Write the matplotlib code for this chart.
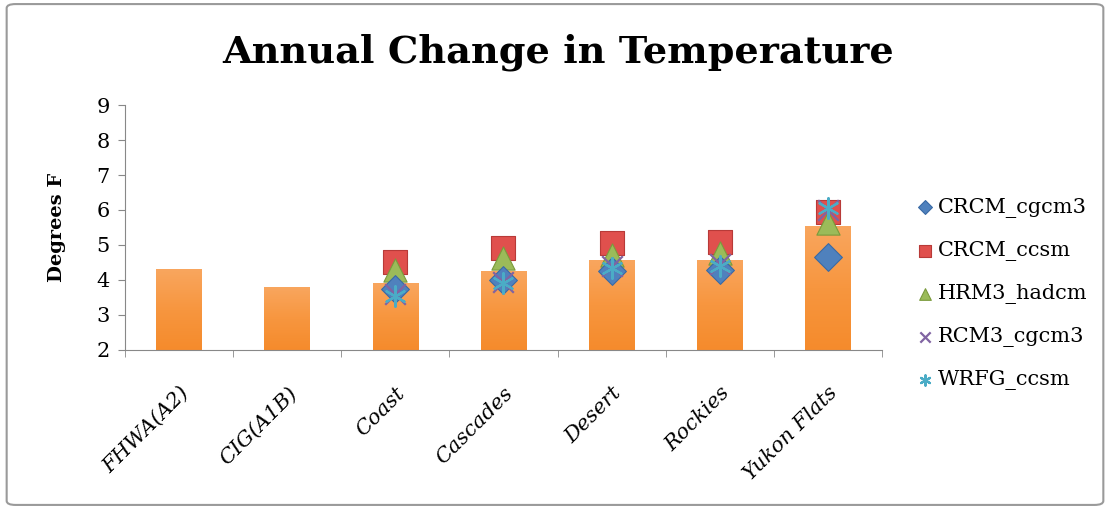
import numpy as np
import matplotlib
matplotlib.use("Agg")
import matplotlib.pyplot as plt
from matplotlib.patches import FancyBboxPatch

categories = ["FHWA(A2)", "CIG(A1B)", "Coast", "Cascades", "Desert", "Rockies", "Yukon Flats"]
bar_values = [4.31, 3.80, 3.91, 4.25, 4.57, 4.57, 5.54]

# model points only exist for the five regions (index 2..6)
crcm_cgcm3 = [np.nan, np.nan, 3.75, 4.00, 4.25, 4.28, 4.66]
crcm_ccsm = [np.nan, np.nan, 4.51, 4.91, 5.06, 5.09, 5.94]
hrm3_hadcm = [np.nan, np.nan, 4.29, 4.63, 4.71, 4.78, 5.62]
rcm3_cgcm3 = [np.nan, np.nan, 3.60, 3.95, 4.40, 4.45, 6.00]
wrfg_ccsm = [np.nan, np.nan, 3.55, 3.90, 4.35, 4.40, 6.05]

serif = "DejaVu Serif"

fig = plt.figure(figsize=(11.1, 5.09), dpi=100)
ax = fig.add_axes([0.1126, 0.3124, 0.6820, 0.4813])

x = np.arange(len(categories))
bars = ax.bar(x, bar_values, width=0.42, color="#F7963F", zorder=2)
# soft vertical gradient on each bar (a bit lighter at the top)
grad = np.linspace(0, 1, 100).reshape(-1, 1)
cmap = matplotlib.colors.LinearSegmentedColormap.from_list("bar", ["#F58B2C", "#F7963F", "#F9A65E"])
for b in bars:
    x0, w, h = b.get_x(), b.get_width(), b.get_height()
    im = ax.imshow(grad, extent=[x0, x0 + w, 2, h], origin="lower", aspect="auto",
                   cmap=cmap, zorder=2.1)
    im.set_clip_path(b)

ax.scatter(x, crcm_ccsm, marker="s", s=300, color="#E0504D", edgecolor="#B83A38", linewidth=0.8, zorder=3, label="CRCM_ccsm")
ax.scatter(x, hrm3_hadcm, marker="^", s=280, color="#9BBB59", edgecolor="#7A9A3C", linewidth=0.8, zorder=4, label="HRM3_hadcm")
ax.scatter(x, crcm_cgcm3, marker="D", s=200, color="#4F81BD", edgecolor="#3A6AA5", linewidth=0.8, zorder=5, label="CRCM_cgcm3")
ax.scatter(x, rcm3_cgcm3, marker="x", s=220, color="#8064A2", linewidth=1.6, zorder=6, label="RCM3_cgcm3")
ax.scatter(x, wrfg_ccsm, marker=(6, 2, 0), s=220, color="#4BACC6", linewidth=1.6, zorder=7, label="WRFG_ccsm")

ax.set_xlim(-0.5, len(categories) - 0.5)
ax.set_ylim(2, 9)
ax.set_yticks(range(2, 10))
ax.set_yticklabels([str(v) for v in range(2, 10)], fontsize=15, family=serif)
ax.set_xticks(x)
ax.set_xticklabels(categories, rotation=45, ha="right", rotation_mode="anchor",
                   fontsize=15, family=serif, style="italic")
ax.set_xticks(np.arange(len(categories) + 1) - 0.5, minor=True)
ax.tick_params(axis="x", which="major", length=0, pad=24)
ax.tick_params(axis="x", which="minor", length=5, color="#888888")
ax.tick_params(axis="y", length=5, color="#888888", pad=6)

for side in ["top", "right"]:
    ax.spines[side].set_visible(False)
ax.spines["left"].set_color("#888888")
ax.spines["bottom"].set_color("#888888")

ax.set_ylabel("Degrees F", fontsize=14, family=serif, fontweight="bold", labelpad=22)

fig.text(0.503, 0.897, "Annual Change in Temperature", ha="center", va="center",
         fontsize=27.5, family=serif, fontweight="bold")

# legend order as in the picture
h, l = ax.get_legend_handles_labels()
order = ["CRCM_cgcm3", "CRCM_ccsm", "HRM3_hadcm", "RCM3_cgcm3", "WRFG_ccsm"]
hh = [h[l.index(o)] for o in order]
leg = fig.legend(hh, order, loc="upper left", bbox_to_anchor=(0.807, 0.648),
                 frameon=False, prop={"family": serif, "size": 15}, handlelength=1.0,
                 handletextpad=0.1, labelspacing=1.11, markerscale=0.5)

fig.patches.append(FancyBboxPatch((0.006, 0.008), 0.988, 0.984, boxstyle="round,pad=0,rounding_size=0.008",
                                  transform=fig.transFigure, fill=False, edgecolor="#9a9a9a", linewidth=1.5))

fig.savefig("out.png", dpi=100)
